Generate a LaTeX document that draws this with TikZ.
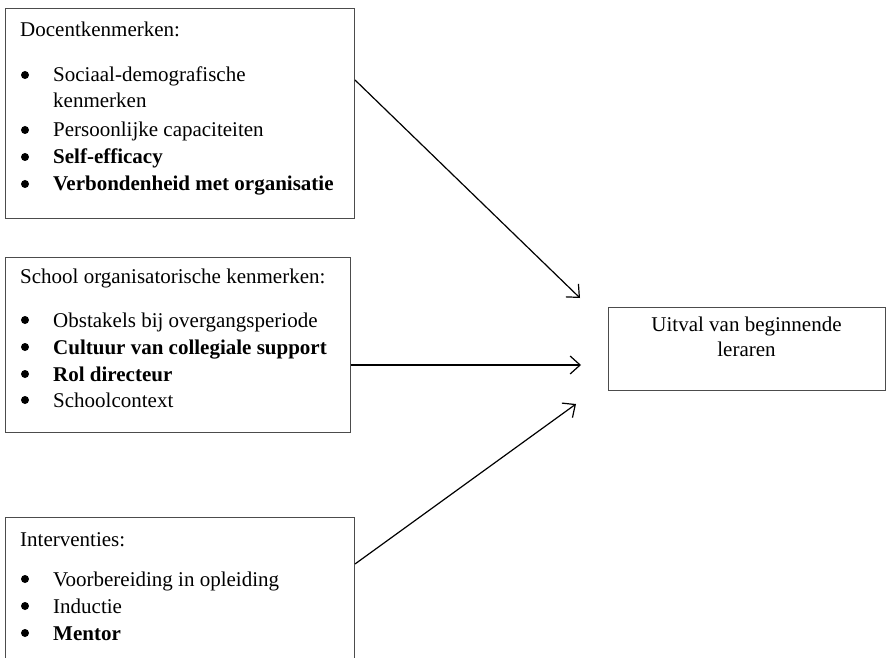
\documentclass[tikz,border=0pt]{standalone}
\usepackage{fontspec}
\setmainfont{Liberation Serif}
\usetikzlibrary{arrows.meta}

\begin{document}
\begin{tikzpicture}[x=1pt,y=-1pt,
    kader/.style={draw=black!70, line width=1pt, anchor=north west, inner sep=0pt},
    regel/.style={anchor=base west, inner sep=0pt, font=\fontsize{21}{25}\selectfont},
    punt/.style={circle, fill=black, inner sep=0pt, minimum size=8pt},
    pijl/.style={-{Straight Barb[length=10pt,width=18pt]}, line width=1.2pt}]

  \useasboundingbox (0,0) rectangle (887,658);
  \clip (0,0) rectangle (887,658);

  % docentkenmerken
  \node[kader, minimum width=349pt, minimum height=210pt] (doc) at (5,8) {};
  \node[regel] (doctitel) at (20,37) {Docentkenmerken:};
  \foreach \y/\tekst [count=\i] in {82/Sociaal-demografische, 137/Persoonlijke capaciteiten,
      164/\textbf{Self-efficacy}, 191/\textbf{Verbondenheid met organisatie}}{
    \node[punt] (dpunt\i) at (25,\y-7) {};
    \node[regel] (dtekst\i) at (53,\y) {\tekst};
  }
  \node[regel] (dtekst0) at (53,108) {kenmerken};

  % school organisatorische kenmerken
  \node[kader, minimum width=345pt, minimum height=175pt] (sch) at (5,257) {};
  \node[regel] (schtitel) at (20,283) {School organisatorische kenmerken:};
  \foreach \y/\tekst [count=\i] in {327/Obstakels bij overgangsperiode, 354/\textbf{Cultuur van collegiale support},
      381/\textbf{Rol directeur}, 407/Schoolcontext}{
    \node[punt] (spunt\i) at (25,\y-7) {};
    \node[regel] (stekst\i) at (53,\y) {\tekst};
  }

  % interventies
  \node[kader, minimum width=349pt, minimum height=170pt] (int) at (5,517) {};
  \node[regel] (inttitel) at (20,546) {Interventies:};
  \foreach \y/\tekst [count=\i] in {586/Voorbereiding in opleiding, 613/Inductie, 640/\textbf{Mentor}}{
    \node[punt] (ipunt\i) at (25,\y-7) {};
    \node[regel] (itekst\i) at (53,\y) {\tekst};
  }

  % uitval
  \node[kader, minimum width=277pt, minimum height=83pt] (uit) at (608,307) {};
  \node[anchor=north, align=center, inner sep=0pt, font=\fontsize{21}{25}\selectfont]
    (uittekst) at (746.5,317) {Uitval van beginnende\\leraren};

  \coordinate (p1) at (580,298);
  \coordinate (p2) at (581,365);
  \coordinate (p3) at (576,404);
  \draw[pijl] ([yshift=-72pt]doc.north east) -- (p1);
  \draw[pijl] ([yshift=-108pt]sch.north east) -- (p2);
  \draw[pijl] ([yshift=-47pt]int.north east) -- (p3);
\end{tikzpicture}
\end{document}
